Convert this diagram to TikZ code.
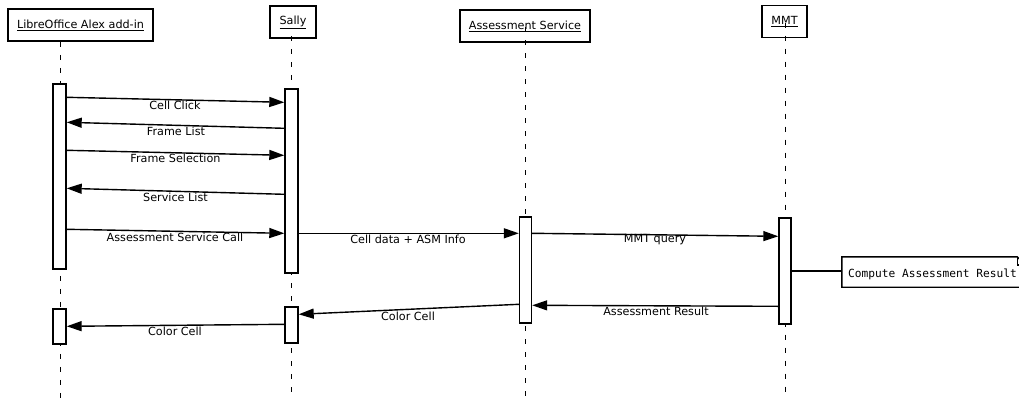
\documentclass[tikz,border=0pt]{standalone}
\usepackage{fontspec}
\setmainfont{DejaVu Sans}
\setmonofont{DejaVu Sans Mono}
\usetikzlibrary{arrows.meta}
\begin{document}
\begin{tikzpicture}[x=1pt,y=-1pt,
  txt/.style={font=\fontsize{11.2}{13}\selectfont, inner sep=0pt},
  head/.style={draw, line width=1.9pt, fill=white, inner sep=0pt, font=\fontsize{11.2}{13}\selectfont},
  act/.style={draw, line width=1.4pt, fill=white, minimum width=13pt, inner sep=0pt},
  life/.style={line width=0.9pt, dash pattern=on 5pt off 8pt},
  msg/.style={line width=1.4pt, -{Triangle[length=15pt,width=10pt]}},
]
\useasboundingbox (0,0) rectangle (1019,399);
\clip (0,0) rectangle (1019,399);

% lifeline x positions (bottom ends)
\coordinate (xA) at (60,399);
\coordinate (xB) at (291,399);
\coordinate (xC) at (525,399);
\coordinate (xD) at (785,399);

% header boxes
\node[head, minimum width=145pt, minimum height=32pt] (libre) at (80.5,25) {\underline{LibreOffice Alex add-in}};
\node[head, minimum width=46pt, minimum height=32pt] (sally) at (293,22) {\underline{Sally}};
\node[head, minimum width=130pt, minimum height=32pt] (asm) at (525,26) {\underline{Assessment Service}};
\node[head, minimum width=45pt, minimum height=32pt] (mmt) at (784.5,21.5) {\underline{MMT}};

% lifelines
\draw[life] (libre.south -| xA) -- (xA);
\draw[life, dash phase=9pt] ([yshift=-10pt]sally.center -| xB) -- (xB);
\draw[life] ([yshift=-1pt]asm.center -| xC) -- (xC);
\draw[life] ([yshift=-1pt]mmt.center -| xD) -- (xD);

% activation boxes
\node[act, minimum height=185pt] (a1) at (59.5,176.5) {};
\node[act, minimum height=35pt] (a2) at (59.5,326.5) {};
\node[act, minimum height=184pt] (b1) at (291.5,181) {};
\node[act, minimum height=36pt] (b2) at (291.5,325) {};
\node[act, minimum height=106pt, minimum width=12pt] (c1) at (525.5,270) {};
\node[act, minimum height=106pt, minimum width=12pt] (d1) at (785,271) {};

% messages
\draw[msg] ([yshift=-14pt]a1.north east) -- ([yshift=-14pt]b1.north west);
\node[txt] (l1) at (175,105) {Cell Click};
\draw[msg] ([yshift=-40pt]b1.north west) -- ([yshift=-39pt]a1.north east);
\node[txt] (l2) at (176,131) {Frame List};
\draw[msg] ([yshift=-67pt]a1.north east) -- ([yshift=-67pt]b1.north west);
\node[txt] (l3) at (175.5,158) {Frame Selection};
\draw[msg] ([yshift=-106pt]b1.north west) -- ([yshift=-105pt]a1.north east);
\node[txt] (l4) at (175.5,197) {Service List};
\draw[msg] ([yshift=-146pt]a1.north east) -- ([yshift=-145pt]b1.north west);
\node[txt] (l5) at (175,237) {Assessment Service Call};
\draw[msg] ([yshift=-145pt]b1.north east) -- ([yshift=-17pt]c1.north west);
\node[txt] (l6) at (408,239) {Cell data + ASM Info};
\draw[msg] ([yshift=-17pt]c1.north east) -- ([yshift=-19pt]d1.north west);
\node[txt] (l7) at (655,240) {MMT query};
\draw[msg] ([yshift=-89pt]d1.north west) -- ([yshift=-89pt]c1.north east);
\node[txt] (l8) at (656,311) {Assessment Result};
\draw[msg] ([yshift=-88pt]c1.north west) -- ([yshift=-8pt]b2.north east);
\node[txt] (l9) at (408,316) {Color Cell};
\draw[msg] ([yshift=-18pt]b2.north west) -- ([yshift=-18pt]a2.north east);
\node[txt] (l10) at (175,331) {Color Cell};

% note
\node[minimum width=183pt, minimum height=30pt, inner sep=0pt] (note) at (933.5,272) {};
\draw[line width=1.4pt] (note.north west) -- ([xshift=-8pt]note.north east) -- ([yshift=-8pt]note.north east) -- (note.south east) -- (note.south west) -- cycle;
\draw[line width=1.4pt] ([xshift=-8pt]note.north east) -- ([xshift=-8pt,yshift=-8pt]note.north east) -- ([yshift=-8pt]note.north east);
\node[txt, anchor=west, font=\ttfamily\fontsize{11.2}{13}\selectfont] (nt) at (848,274) {Compute Assessment Result};
\coordinate (nl) at (note.west |- {(0,271)});
\draw[line width=1.4pt] (d1.east |- nl) -- (nl);
\end{tikzpicture}
\end{document}
